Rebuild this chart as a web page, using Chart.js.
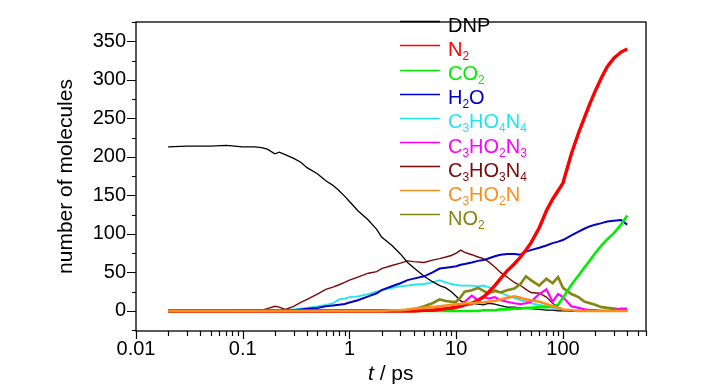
<!DOCTYPE html>
<html>
<head>
<meta charset="utf-8">
<script src="https://cdn.jsdelivr.net/npm/chart.js@4"></script>
<style>
  body { margin: 0; background: #fff; }
  #wrap { width: 728px; height: 390px; }
</style>
</head>
<body>
<div id="wrap"><canvas id="speciesChart" width="728" height="390"></canvas></div>
<script>
// time axis (ps), shared by all species
const times = [0.02, 0.03, 0.05, 0.07, 0.1, 0.13, 0.15, 0.17, 0.2, 0.22,
  0.25, 0.3, 0.35, 0.4, 0.5, 0.6, 0.7, 0.8, 0.9, 1,
  1.2, 1.5, 1.8, 2, 2.5, 3, 3.5, 4, 5, 6,
  7, 8, 9, 10, 11, 12, 14, 16, 18, 20,
  23, 26, 30, 35, 40, 45, 50, 60, 70, 80,
  90, 100, 120, 140, 160, 180, 200, 230, 260, 300,
  350, 400];

const dnp = [213, 214, 214, 215, 213, 213, 212, 210, 204, 206,
  203, 198, 193, 186, 178, 169, 163, 156, 149, 142,
  130, 118, 106, 96, 85, 74, 63, 56, 45, 38,
  33, 30, 25, 19, 13, 11, 10, 9, 8, 10,
  9, 7, 5, 5, 4, 4, 3, 2, 1, 1,
  0, 0, 0, 0, 0, 0, 0, 0, 0, 0,
  0, 0];
const n2 = [0, 0, 0, 0, 0, 0, 0, 0, 0, 0,
  0, 0, 0, 0, 0, 0, 0, 0, 0, 0,
  0, 0, 0, 0, 0, 0, 0, 0, 1, 1,
  2, 3, 4, 5, 6, 8, 10, 14, 18, 24,
  33, 42, 52, 61, 70, 79, 88, 108, 130, 145,
  156, 166, 204, 231, 252, 270, 285, 303, 317, 328,
  336, 340];
const co2 = [0, 0, 0, 0, 0, 0, 0, 0, 0, 0,
  0, 0, 0, 0, 0, 0, 0, 0, 0, 0,
  0, 0, 0, 0, 0, 0, 0, 0, 0, 0,
  0, 0, 0, 0, 0, 0, 0, 0, 1, 1,
  1, 2, 2, 3, 3, 4, 4, 5, 5, 6,
  8, 17, 34, 46, 57, 66, 75, 85, 93, 101,
  112, 124];
const h2o = [0, 0, 0, 0, 0, 0, 0, 0, 0, 0,
  0, 1, 2, 3, 4, 6, 7, 8, 9, 11,
  14, 19, 23, 27, 32, 36, 40, 42, 45, 50,
  55, 56, 57, 58, 60, 61, 63, 65, 66, 68,
  71, 73, 74, 74, 73, 77, 79, 82, 85, 88,
  90, 92, 98, 103, 107, 110, 112, 114, 116, 117,
  118, 112];
const c3ho4n4 = [0, 0, 0, 0, 0, 0, 0, 0, 0, 0,
  1, 2, 3, 4, 6, 8, 10, 15, 16, 18,
  19, 22, 25, 27, 30, 32, 33, 34, 35, 37,
  40, 37, 35, 34, 33, 33, 33, 32, 33, 31,
  28, 24, 20, 17, 14, 12, 10, 8, 6, 4,
  2, 1, 0, 0, 0, 0, 0, 0, 0, 0,
  0, 0];
const c3ho2n3 = [0, 0, 0, 0, 0, 0, 0, 0, 0, 0,
  0, 0, 0, 0, 0, 0, 0, 0, 0, 0,
  0, 0, 0, 0, 0, 0, 0, 0, 0, 0,
  0, 1, 2, 4, 8, 12, 20, 14, 19, 16,
  18, 14, 12, 10, 9, 10, 12, 22, 28, 12,
  22, 18, 6, 4, 2, 1, 1, 0, 0, 1,
  3, 3];
const c3ho3n4 = [0, 0, 0, 0, 1, 1, 1, 3, 6, 5,
  2, 6, 11, 15, 22, 28, 31, 34, 37, 40,
  44, 49, 51, 55, 59, 62, 65, 64, 63, 66,
  68, 70, 72, 75, 79, 76, 73, 70, 68, 64,
  57, 50, 44, 37, 33, 28, 24, 23, 18, 10,
  5, 2, 0, 0, 0, 0, 0, 0, 0, 0,
  0, 0];
const c3ho2n = [0, 0, 0, 0, 0, 0, 0, 0, 0, 0,
  0, 0, 0, 0, 0, 0, 0, 0, 0, 0,
  0, 0, 0, 0, 1, 1, 2, 3, 4, 5,
  6, 7, 8, 9, 9, 10, 10, 11, 11, 12,
  13, 15, 17, 19, 17, 15, 14, 12, 9, 6,
  4, 2, 1, 0, 0, 0, 0, 0, 0, 0,
  0, 0];
const no2 = [0, 0, 0, 0, 0, 0, 0, 0, 0, 0,
  0, 0, 0, 0, 0, 0, 0, 0, 0, 0,
  0, 0, 0, 0, 0, 0, 1, 2, 6, 10,
  15, 13, 12, 12, 18, 25, 27, 30, 26, 23,
  26, 24, 27, 29, 35, 45, 40, 33, 42, 36,
  44, 30, 22, 18, 12, 10, 8, 5, 4, 3,
  2, 1];

// legend labels, "_" marks a subscript digit
const speciesLabels = ['DNP', 'N_2', 'CO_2', 'H_2O', 'C_3HO_4N_4', 'C_3HO_2N_3', 'C_3HO_3N_4', 'C_3HO_2N', 'NO_2'];
const speciesColors = ['#000000', '#ff0000', '#00ee00', '#0000cc', '#22e6ee', '#ff00ff', '#7a0a0a', '#f7901e', '#858512'];
const xTicks = [0.01, 0.1, 1, 10, 100];
const xTickLabels = ['0.01', '0.1', '1', '10', '100'];
const yTicks = [0, 50, 100, 150, 200, 250, 300, 350];

const FONT = '"Liberation Sans", Arial, sans-serif';

function series(vals) {
  return times.map((t, i) => ({x: t, y: vals[i]}));
}

const allSeries = [dnp, n2, co2, h2o, c3ho4n4, c3ho2n3, c3ho3n4, c3ho2n, no2];
const widths = [1.3, 3.4, 2.6, 2, 1.8, 2.2, 1.4, 2.6, 2.6];
const drawOrder = [6, 1, 2, 3, 8, 4, 7, 0, 5];

const datasets = allSeries.map((vals, i) => ({
  label: speciesLabels[i],
  data: series(vals),
  borderColor: speciesColors[i],
  borderWidth: widths[i],
  pointRadius: 0,
  tension: 0,
  fill: false,
  order: drawOrder[i]
}));

function drawRich(ctx, label, x, y, color) {
  ctx.fillStyle = color;
  ctx.textBaseline = 'alphabetic';
  ctx.textAlign = 'left';
  let i = 0;
  while (i < label.length) {
    if (label[i] === '_') {
      ctx.font = '12px ' + FONT;
      ctx.fillText(label[i + 1], x, y + 4);
      x += ctx.measureText(label[i + 1]).width;
      i += 2;
    } else {
      ctx.font = '20px ' + FONT;
      ctx.fillText(label[i], x, y);
      x += ctx.measureText(label[i]).width;
      i++;
    }
  }
}

const decor = {
  id: 'decor',
  afterDraw(chart) {
    const ctx = chart.ctx;
    const a = chart.chartArea;
    const xs = chart.scales.x, ys = chart.scales.y;
    ctx.save();
    ctx.strokeStyle = '#000';
    ctx.lineWidth = 1.3;
    ctx.strokeRect(a.left, a.top, a.right - a.left, a.bottom - a.top);

    // y ticks, every 25, long on multiples of 50
    ctx.lineWidth = 1.2;
    ctx.beginPath();
    for (let v = -25; v <= 375; v += 25) {
      const py = Math.round(ys.getPixelForValue(v)) + 0.5;
      const len = v % 50 === 0 ? 9 : 4;
      ctx.moveTo(a.left - len, py);
      ctx.lineTo(a.left, py);
    }
    // x ticks on the log axis
    for (const d of xTicks) {
      for (let m = 1; m <= 9; m++) {
        const v = d * m;
        if (v > xs.max) break;
        const px = Math.round(xs.getPixelForValue(v)) + 0.5;
        const len = m === 1 ? 8 : 5;
        ctx.moveTo(px, a.bottom);
        ctx.lineTo(px, a.bottom + len);
      }
    }
    ctx.stroke();

    // axis titles
    ctx.fillStyle = '#000';
    ctx.save();
    ctx.translate(72, (a.top + a.bottom) / 2);
    ctx.rotate(-Math.PI / 2);
    ctx.font = '21px ' + FONT;
    ctx.textAlign = 'center';
    ctx.textBaseline = 'alphabetic';
    ctx.fillText('number of molecules', 0, 0);
    ctx.restore();

    ctx.textAlign = 'left';
    ctx.textBaseline = 'alphabetic';
    ctx.font = 'italic 21px ' + FONT;
    ctx.fillText('t', 368, 380);
    const tw = ctx.measureText('t').width;
    ctx.font = '21px ' + FONT;
    ctx.fillText(' / ps', 368 + tw, 380);

    // legend
    speciesLabels.forEach((lab, i) => {
      const base = 31.7 + 24.16 * i;
      const ly = Math.round(base - 10.5) + 0.5;
      ctx.strokeStyle = speciesColors[i];
      ctx.lineWidth = 1.3;
      ctx.beginPath();
      ctx.moveTo(400, ly);
      ctx.lineTo(440, ly);
      ctx.stroke();
      drawRich(ctx, lab, 448, base, speciesColors[i]);
    });
    ctx.restore();
  }
};

new Chart(document.getElementById('speciesChart'), {
  type: 'line',
  data: { datasets: datasets },
  options: {
    responsive: false,
    animation: false,
    devicePixelRatio: 1,
    layout: { padding: { top: 9, right: 82, left: 0, bottom: 0 } },
    plugins: { legend: { display: false }, tooltip: { enabled: false } },
    scales: {
      x: {
        type: 'logarithmic',
        min: 0.01,
        max: 600,
        grid: { display: false, drawTicks: false },
        border: { display: false },
        afterBuildTicks: s => { s.ticks = xTicks.map(v => ({value: v})); },
        afterFit: s => { s.height = 59; },
        ticks: {
          autoSkip: false,
          maxRotation: 0,
          padding: 6,
          color: '#000',
          font: { family: FONT, size: 20 },
          callback: v => { const k = xTicks.indexOf(v); return k >= 0 ? xTickLabels[k] : ''; }
        }
      },
      y: {
        type: 'linear',
        min: -26,
        max: 375,
        grid: { display: false, drawTicks: false },
        border: { display: false },
        afterBuildTicks: s => { s.ticks = yTicks.map(v => ({value: v})); },
        afterFit: s => { s.width = 136; },
        ticks: {
          padding: 10,
          color: '#000',
          font: { family: FONT, size: 20 }
        }
      }
    }
  },
  plugins: [decor]
});
</script>
</body>
</html>
